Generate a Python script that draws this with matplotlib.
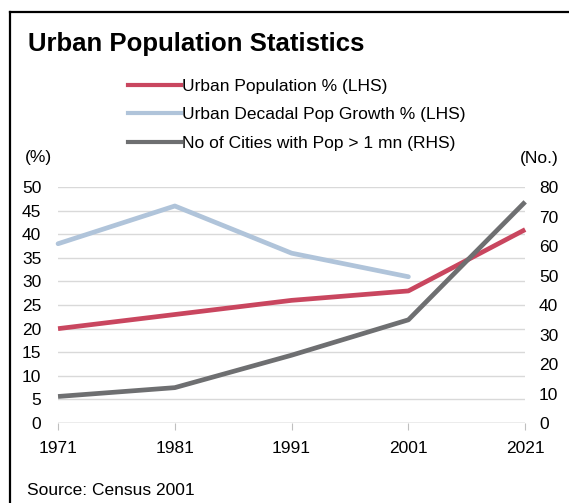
import matplotlib
matplotlib.use("Agg")
import matplotlib.pyplot as plt
from matplotlib.lines import Line2D

plt.rcParams['font.family'] = ['Liberation Sans', 'DejaVu Sans']

years = ["1971", "1981", "1991", "2001", "2021"]
urban_pct = [20, 23, 26, 28, 41]
decadal_growth = [38, 46, 36, 31]
million_cities = [9, 12, 23, 35, 75]

labels = ["Urban Population % (LHS)",
          "Urban Decadal Pop Growth % (LHS)",
          "No of Cities with Pop > 1 mn (RHS)"]
colors = ["#C9465F", "#B0C4DA", "#6E6F71"]

fig = plt.figure(figsize=(5.69, 5.03), dpi=100)
ax = fig.add_axes([0.102, 0.159, 0.821, 0.469])
ax2 = ax.twinx()

x = list(range(len(years)))
lw = 3.4
ax.plot(x, urban_pct, color=colors[0], lw=lw, zorder=3, clip_on=False, solid_capstyle='butt')
ax.plot(x[:len(decadal_growth)], decadal_growth, color=colors[1], lw=lw, zorder=3,
        clip_on=False, solid_capstyle='round')
ax2.plot(x, million_cities, color=colors[2], lw=lw, zorder=3, clip_on=False, solid_capstyle='butt')

ax.set_xlim(0, len(years) - 1)
ax.set_ylim(0, 50)
ax2.set_ylim(0, 80)
ax.set_yticks(range(0, 51, 5))
ax2.set_yticks(range(0, 81, 10))
ax.set_xticks(x)
ax.set_xticklabels(years)

ax.grid(axis='y', color='#D9D9D9', lw=1)
ax.set_axisbelow(True)
for a in (ax, ax2):
    for s in ['top', 'left', 'right', 'bottom']:
        a.spines[s].set_visible(False)
ax.axhline(0, color='#BFBFBF', lw=1, zorder=1)

ax.tick_params(axis='y', length=0, labelsize=12.5, pad=12)
ax2.tick_params(axis='y', length=0, labelsize=12.5, pad=10)
ax.tick_params(axis='x', length=5, color='#BFBFBF', labelsize=12.5, pad=8, direction='out')

fig.text(0.05, 0.912, "Urban Population Statistics", fontsize=18.5, fontweight='bold',
         va='center', ha='left')
fig.text(0.044, 0.686, "(%)", fontsize=12.5, va='center')
fig.text(0.913, 0.684, "(No.)", fontsize=12.5, va='center')
fig.text(0.047, 0.025, "Source: Census 2001", fontsize=12.5, va='center')

handles = [Line2D([0], [0], color=c, lw=3) for c in colors]
fig.legend(handles, labels, loc='upper left', bbox_to_anchor=(0.209, 0.861),
           frameon=False, fontsize=12.5, handlelength=3.05, handletextpad=0.1,
           labelspacing=0.78, borderpad=0)

# frame border (top and left)
fig.add_artist(Line2D([0.017, 0.017], [0, 0.977], color='black', lw=1.6))
fig.add_artist(Line2D([0.017, 1.0], [0.977, 0.977], color='black', lw=1.6))

fig.savefig("out.png", dpi=100)
